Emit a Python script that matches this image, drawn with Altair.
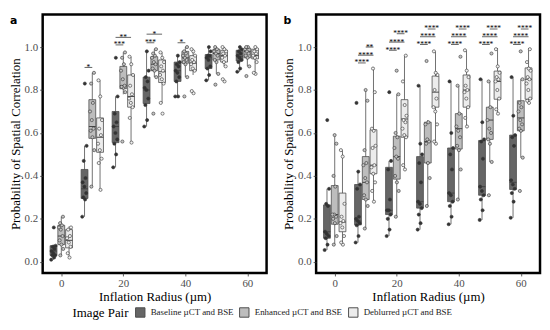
import altair as alt
import pandas as pd

radii = [0, 10, 20, 30, 40, 50, 60]
groups = ["Baseline µCT and BSE", "Enhanced µCT and BSE", "Deblurred µCT and BSE"]
box_fill = ["#666666", "#bdbdbd", "#ececec"]
pt_fill = ["#333333", "#c4c4c4", "#f2f2f2"]

# box stats per radius: (q1, median, q3, whisker_lo, whisker_hi)
a_base = [(0.03, 0.05, 0.075, 0.01, 0.08), (0.295, 0.34, 0.43, 0.21, 0.54), (0.555, 0.63, 0.70, 0.44, 0.77),
          (0.737, 0.80, 0.86, 0.63, 0.98), (0.84, 0.89, 0.93, 0.77, 0.96), (0.90, 0.95, 0.965, 0.845, 1.0),
          (0.935, 0.955, 0.985, 0.885, 1.0)]
a_enh = [(0.08, 0.12, 0.17, 0.03, 0.21), (0.575, 0.63, 0.755, 0.35, 0.88), (0.806, 0.82, 0.91, 0.78, 0.975),
         (0.89, 0.92, 0.955, 0.86, 0.99), (0.925, 0.95, 0.98, 0.86, 1.0), (0.94, 0.97, 0.99, 0.875, 1.0),
         (0.95, 0.98, 0.995, 0.91, 1.0)]
a_deb = [(0.065, 0.10, 0.15, 0.02, 0.165), (0.51, 0.58, 0.67, 0.335, 0.845), (0.72, 0.77, 0.87, 0.555, 0.955),
         (0.835, 0.885, 0.94, 0.74, 0.975), (0.89, 0.925, 0.96, 0.87, 0.99), (0.93, 0.96, 0.985, 0.91, 1.0),
         (0.945, 0.96, 0.99, 0.875, 1.0)]
b_base = [(0.11, 0.14, 0.265, 0.055, 0.34), (0.172, 0.19, 0.36, 0.09, 0.42), (0.22, 0.24, 0.44, 0.12, 0.47),
          (0.25, 0.28, 0.49, 0.15, 0.82), (0.28, 0.32, 0.53, 0.175, 0.84), (0.31, 0.35, 0.565, 0.195, 0.85),
          (0.337, 0.37, 0.59, 0.205, 0.86)]
b_enh = [(0.175, 0.22, 0.355, 0.08, 0.59), (0.29, 0.37, 0.49, 0.155, 0.80), (0.385, 0.49, 0.585, 0.21, 0.78),
         (0.46, 0.56, 0.65, 0.26, 0.66), (0.525, 0.62, 0.69, 0.29, 0.82), (0.57, 0.66, 0.72, 0.465, 0.84),
         (0.61, 0.67, 0.75, 0.485, 0.85)]
b_deb = [(0.14, 0.185, 0.32, 0.08, 0.52), (0.41, 0.45, 0.615, 0.28, 0.905), (0.58, 0.665, 0.755, 0.43, 0.96),
         (0.72, 0.79, 0.865, 0.55, 0.98), (0.72, 0.80, 0.87, 0.63, 0.985), (0.757, 0.84, 0.888, 0.69, 0.995),
         (0.757, 0.85, 0.903, 0.74, 0.993)]

# individual observations per radius
a_base_pts = [[0.01, 0.02, 0.03, 0.03, 0.04, 0.05, 0.06, 0.07, 0.075, 0.16],
              [0.21, 0.29, 0.30, 0.32, 0.35, 0.37, 0.39, 0.47, 0.54, 0.83],
              [0.44, 0.50, 0.55, 0.57, 0.60, 0.63, 0.65, 0.69, 0.77, 0.95],
              [0.63, 0.66, 0.73, 0.76, 0.80, 0.81, 0.84, 0.86, 0.89, 0.98],
              [0.77, 0.77, 0.84, 0.86, 0.88, 0.89, 0.91, 0.92, 0.93, 0.96],
              [0.845, 0.87, 0.90, 0.91, 0.94, 0.95, 0.96, 0.96, 0.98, 1.0],
              [0.885, 0.90, 0.93, 0.94, 0.95, 0.96, 0.97, 0.98, 0.99, 1.0]]
a_enh_pts = [[0.03, 0.06, 0.08, 0.10, 0.12, 0.15, 0.16, 0.17, 0.18, 0.21],
             [0.35, 0.52, 0.58, 0.61, 0.62, 0.66, 0.70, 0.74, 0.83, 0.88],
             [0.56, 0.79, 0.81, 0.815, 0.82, 0.85, 0.89, 0.92, 0.95, 0.975],
             [0.69, 0.86, 0.89, 0.90, 0.92, 0.93, 0.95, 0.96, 0.97, 0.99],
             [0.77, 0.86, 0.92, 0.93, 0.94, 0.95, 0.96, 0.97, 0.98, 1.0],
             [0.825, 0.875, 0.93, 0.94, 0.96, 0.97, 0.98, 0.99, 1.0],
             [0.865, 0.91, 0.95, 0.96, 0.97, 0.98, 0.99, 1.0, 1.0]]
a_deb_pts = [[0.02, 0.04, 0.07, 0.09, 0.11, 0.12, 0.15, 0.16],
             [0.335, 0.46, 0.48, 0.52, 0.55, 0.59, 0.62, 0.66, 0.77, 0.845],
             [0.555, 0.67, 0.72, 0.74, 0.76, 0.78, 0.82, 0.87, 0.92, 0.955],
             [0.69, 0.74, 0.83, 0.85, 0.87, 0.89, 0.91, 0.93, 0.95, 0.975],
             [0.785, 0.795, 0.89, 0.90, 0.92, 0.93, 0.94, 0.96, 0.98, 0.99],
             [0.84, 0.85, 0.91, 0.93, 0.95, 0.96, 0.97, 0.98, 0.99, 1.0],
             [0.875, 0.88, 0.93, 0.95, 0.96, 0.97, 0.98, 0.99, 1.0]]
b_base_pts = [[0.055, 0.08, 0.11, 0.12, 0.13, 0.14, 0.26, 0.27, 0.34, 0.66],
              [0.09, 0.12, 0.17, 0.18, 0.19, 0.20, 0.21, 0.34, 0.36, 0.42, 0.74],
              [0.12, 0.15, 0.20, 0.22, 0.24, 0.24, 0.29, 0.43, 0.47, 0.79],
              [0.15, 0.18, 0.22, 0.25, 0.27, 0.28, 0.37, 0.46, 0.50, 0.55, 0.82],
              [0.175, 0.21, 0.26, 0.28, 0.31, 0.32, 0.43, 0.50, 0.53, 0.60, 0.84],
              [0.195, 0.24, 0.29, 0.31, 0.33, 0.35, 0.48, 0.56, 0.57, 0.65, 0.85],
              [0.205, 0.28, 0.32, 0.34, 0.36, 0.38, 0.54, 0.58, 0.59, 0.68, 0.86]]
b_enh_pts = [[0.08, 0.12, 0.18, 0.20, 0.21, 0.22, 0.22, 0.35, 0.40, 0.55, 0.59],
             [0.155, 0.26, 0.29, 0.31, 0.37, 0.39, 0.45, 0.46, 0.52, 0.75, 0.80],
             [0.21, 0.33, 0.37, 0.40, 0.48, 0.49, 0.53, 0.58, 0.60, 0.78, 0.89],
             [0.26, 0.39, 0.46, 0.55, 0.56, 0.57, 0.64, 0.65, 0.935],
             [0.29, 0.43, 0.52, 0.54, 0.58, 0.61, 0.63, 0.69, 0.82, 0.955],
             [0.31, 0.465, 0.55, 0.57, 0.60, 0.62, 0.66, 0.72, 0.84, 0.97],
             [0.33, 0.485, 0.61, 0.62, 0.64, 0.66, 0.70, 0.72, 0.74, 0.85, 0.98]]
b_deb_pts = [[0.08, 0.09, 0.12, 0.16, 0.18, 0.19, 0.21, 0.27, 0.49, 0.52],
             [0.28, 0.33, 0.37, 0.41, 0.44, 0.45, 0.53, 0.54, 0.61, 0.62, 0.79, 0.90],
             [0.43, 0.45, 0.58, 0.59, 0.62, 0.65, 0.66, 0.68, 0.73, 0.84, 0.96],
             [0.55, 0.56, 0.64, 0.70, 0.72, 0.76, 0.80, 0.87, 0.88, 0.98],
             [0.63, 0.67, 0.72, 0.76, 0.79, 0.80, 0.82, 0.86, 0.89, 0.985],
             [0.69, 0.71, 0.76, 0.80, 0.84, 0.85, 0.86, 0.88, 0.91, 0.99],
             [0.74, 0.75, 0.76, 0.80, 0.83, 0.85, 0.86, 0.89, 0.90, 0.93, 0.99]]

# significance brackets: (radius, group_from, group_to, y, label)
a_sig = [(10, 0, 1, 0.905, "*"), (20, 0, 1, 1.01, "***"), (20, 0, 2, 1.045, "**"),
         (30, 0, 1, 1.02, "***"), (30, 0, 2, 1.06, "*"), (40, 0, 1, 1.02, "*")]
b_sig = [(10, 0, 1, 0.926, "****"), (10, 0, 2, 0.962, "****"), (10, 1, 2, 1.0, "**"),
         (20, 0, 1, 0.985, "****"), (20, 0, 2, 1.023, "****"), (20, 1, 2, 1.062, "****")]
for r in [30, 40, 50, 60]:
    b_sig += [(r, 0, 1, 1.012, "****"), (r, 0, 2, 1.048, "****"), (r, 1, 2, 1.084, "****")]

dodge = [-2.5, 0.0, 2.5]
half = 1.1
jit = 1.5

def make_frames(stats, pts, sig):
    brows, prows, srows = [], [], []
    for gi, g in enumerate(groups):
        for ri, r in enumerate(radii):
            q1, md, q3, lo, hi = stats[gi][ri]
            xc = r + dodge[gi]
            brows.append(dict(group=g, xc=xc, xl=xc - half, xr=xc + half,
                              q1=q1, med=md, q3=q3, lo=lo, hi=hi))
            for k, v in enumerate(pts[gi][ri]):
                j = ((k * 0.618034 + gi * 0.3) % 1 - 0.5) * jit
                prows.append(dict(group=g, x=xc + j, y=v, pf=pt_fill[gi]))
    for r, g1, g2, y, lab in sig:
        x1, x2 = r + dodge[g1], r + dodge[g2]
        srows.append(dict(x1=x1, x2=x2, xm=(x1 + x2) / 2, y=y, lab=lab))
    return pd.DataFrame(brows), pd.DataFrame(prows), pd.DataFrame(srows)

SERIF = "Liberation Serif"
xs = alt.Scale(domain=[-6, 66.2], nice=False, zero=False)
ys = alt.Scale(domain=[-0.052, 1.152], nice=False, zero=False)
fill_scale = alt.Scale(domain=groups, range=box_fill)

axis_style = dict(grid=False, domain=False, tickColor="#333333", tickSize=3, tickWidth=0.8,
                  labelColor="#4d4d4d", labelFont=SERIF, labelFontSize=11, labelPadding=2,
                  titleFont=SERIF, titleFontSize=13, titleFontWeight="normal", titleColor="black",
                  titlePadding=2)


def panel(stats, pts, sig, letter, show_legend):
    bdf, pdf, sdf = make_frames(stats, pts, sig)
    xax = alt.Axis(values=radii, title="Inflation Radius (µm)", format="d", **axis_style)
    yax = alt.Axis(values=[0, 0.2, 0.4, 0.6, 0.8, 1.0], format=".1f",
                   title="Probability of Spatial Correlation", **axis_style)
    base = alt.Chart(bdf)
    whisk = base.mark_rule(color="#4d4d4d", strokeWidth=0.8).encode(
        x=alt.X("xc:Q", scale=xs, axis=xax), y=alt.Y("lo:Q", scale=ys, axis=yax), y2="hi:Q")
    leg = alt.Legend(title="Image Pair") if show_legend else None
    box = base.mark_rect(stroke="#4d4d4d", strokeWidth=0.8).encode(
        x="xl:Q", x2="xr:Q", y="q1:Q", y2="q3:Q",
        fill=alt.Fill("group:N", scale=fill_scale, legend=leg, sort=groups))
    med = base.mark_rule(color="#444444", strokeWidth=1).encode(x="xl:Q", x2="xr:Q", y="med:Q")
    points = alt.Chart(pdf).mark_point(filled=True, shape="circle", size=10, stroke="#333333",
                                       strokeWidth=0.6, opacity=1).encode(
        x="x:Q", y="y:Q", fill=alt.Fill("pf:N", scale=None))
    srule = alt.Chart(sdf).mark_rule(color="#222222", strokeWidth=0.7).encode(
        x="x1:Q", x2="x2:Q", y="y:Q")
    stext = alt.Chart(sdf).mark_text(font=SERIF, fontSize=7.5, baseline="alphabetic", dy=2.5,
                                     color="black").encode(x="xm:Q", y="y:Q", text="lab:N")
    lab = alt.Chart(pd.DataFrame({"t": [letter]})).mark_text(
        font="DejaVu Sans", fontWeight="bold", fontSize=11, align="left", baseline="top",
        color="black").encode(x=alt.value(-33), y=alt.value(1), text="t:N")
    return alt.layer(whisk, box, med, points, srule, stext, lab).properties(width=226, height=261)


pa = panel([a_base, a_enh, a_deb], [a_base_pts, a_enh_pts, a_deb_pts], a_sig, "a", True)
pb = panel([b_base, b_enh, b_deb], [b_base_pts, b_enh_pts, b_deb_pts], b_sig, "b", False)

chart = alt.hconcat(pa, pb, spacing=13).properties(
    padding={"left": 0, "top": 3, "right": 0, "bottom": 0}
).configure_view(stroke="black", strokeWidth=2.5).configure_axis(
    grid=False, domain=False
).configure_legend(
    orient="none", legendX=30, legendY=295, direction="horizontal", titleOrient="left",
    titleFont=SERIF, titleFontSize=13, titleFontWeight="normal", titleColor="black",
    labelFont=SERIF, labelFontSize=9, labelColor="#222222", symbolType="square",
    symbolSize=90, symbolStrokeColor="#4d4d4d", symbolStrokeWidth=1, columnPadding=3,
    labelOffset=5, titlePadding=6, labelLimit=200
)

chart.save("out.html", embed_options={"renderer": "svg", "actions": False})
